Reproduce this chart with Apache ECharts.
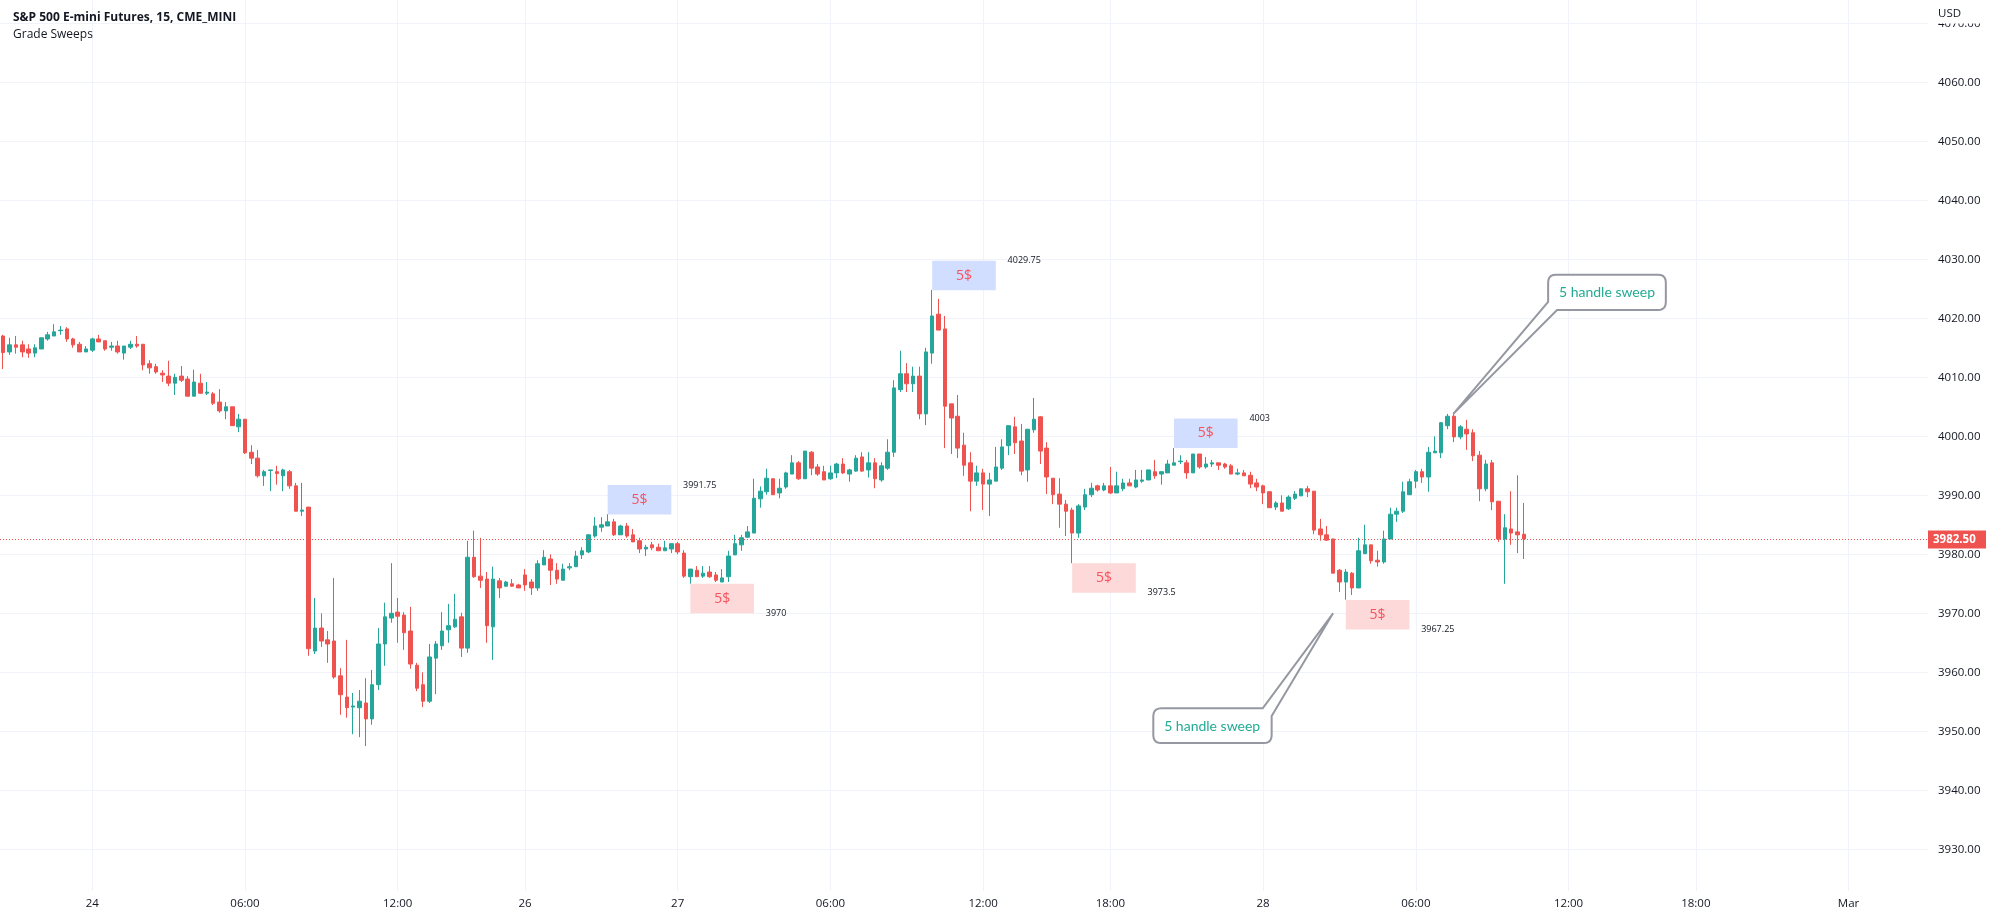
<!DOCTYPE html>
<html>
<head>
<meta charset="utf-8">
<title>S&amp;P 500 E-mini Futures</title>
<style>html,body{margin:0;padding:0;background:#fff;overflow:hidden}#chart{width:1992px;height:919px}</style>
<script src="https://cdn.jsdelivr.net/npm/echarts@6/dist/echarts.min.js"></script>
</head>
<body>
<div id="chart"></div>
<script>
const opens = [
4017,4014.3,4015.5,4015.5,4014.8,4014.1,4014.8,4016.5,4017,4017.9,
4018.2,4016.5,4015.6,4014.3,4014.6,4016.5,4016.2,4015.1,4015.3,4014.1,
4015.1,4015.6,4015.6,4012.3,4011.8,4010.7,4010.2,4009,4010.2,4009.7,
4006.8,4009,4007.3,4007.2,4005.8,4004.3,4005,4001.6,4002.9,3997.3,
3996.3,3993.3,3994.2,3994,3993.3,3994,3991.6,3987.3,3988,3963.6,
3967.5,3965.5,3965.3,3959.4,3955.8,3954.1,3954,3954.8,3952.1,3957.9,
3964.8,3969.2,3970.2,3969.7,3967,3961.2,3957.9,3955.1,3962.4,3964.5,
3967.2,3967.7,3969.4,3964.1,3979.5,3976.3,3975.8,3967.7,3975.5,3974.6,
3975,3974.8,3976.5,3975.3,3974.3,3978.2,3979.2,3977.3,3975.6,3977.7,
3977.9,3979.9,3980.4,3983.1,3984.6,3984.8,3985.5,3983.3,3984.8,3983.3,
3982.3,3980.9,3981.6,3981.2,3980.6,3980.9,3981.8,3980.2,3976.2,3977.3,
3976.3,3977,3976.5,3975.3,3976.2,3979.9,3981.6,3982.9,3983.6,3989.4,
3990.6,3992.8,3990.4,3991.4,3993.6,3995.5,3992.8,3997.3,3994.8,3994,
3992.8,3993.8,3995.3,3993.6,3994.1,3996.5,3994.3,3995.5,3992.6,3994.6,
3997.3,4007.9,4010.6,4008.9,4010.2,4003.8,4014.1,4020.7,4018.2,4005.5,
4003.4,3998.5,3995.5,3992.4,3993.8,3991.9,3992.4,3994.6,3998.4,4001.6,
3999.2,3994.3,4001.1,4003.3,3998,3992.9,3990.2,3988.5,3987.5,3983.6,
3988,3990.1,3991.6,3990.9,3991.6,3990.4,3991.1,3992.1,3991.4,3992.4,
3992.6,3994,3993.6,3993.8,3995.1,3995.7,3995.5,3993.8,3997,3994.8,
3995.3,3995.5,3995.3,3995,3993.6,3993.8,3993.4,3992.1,3991.6,3990.6,
3988,3988.7,3987.7,3989.5,3989.9,3991.1,3990.7,3984.3,3983.3,3982.6,
3977.3,3975.3,3976.8,3974.3,3980.1,3981.6,3979,3978.7,3982.6,3986.8,
3987.3,3990.1,3992.4,3994,3993.1,3997.2,3997.2,4001.8,4003.4,3999.9,
4001.2,4000.6,3996.8,3991.1,3995.5,3989,3982.6,3984.3,3983.8,3983.4];
const closes = [
4014.2,4015.5,4015.1,4014.3,4014.1,4015,4016.7,4017.2,4017.7,4018,
4016.5,4015.5,4014.3,4014.8,4016.5,4016,4014.8,4015.3,4014.3,4015.3,
4015.6,4015.3,4012.1,4011.6,4010.9,4010.4,4009,4010,4009.5,4006.8,
4009.2,4007.3,4007.5,4005.6,4004.3,4005,4001.8,4002.9,3997.2,3996.3,
3993.3,3994,3994.3,3993.7,3994.3,3991.6,3987.3,3987.5,3964,3967.5,
3965.3,3964.8,3959.2,3956.2,3954,3954.3,3955.1,3952.1,3957.9,3964.8,
3969.4,3970,3969.5,3966.7,3961.4,3957.3,3955.1,3962.6,3964.8,3967,
3967.9,3969,3964.1,3979.5,3976.2,3975.6,3967.9,3975.8,3974.3,3975.3,
3974.6,3974.3,3974.8,3974.3,3978.4,3979.5,3977.3,3975.8,3977.5,3977.9,
3979.7,3980.6,3983.3,3984.8,3985,3985.5,3983.3,3984.8,3983.1,3982.1,
3980.9,3981.2,3981.1,3980.6,3981.1,3981.8,3980.4,3976.3,3977.5,3976.2,
3976.8,3976.2,3975.6,3976,3979.7,3981.8,3982.8,3983.8,3989.5,3990.7,
3992.9,3990.1,3991.2,3993.8,3995.5,3992.8,3997.5,3994.6,3993.6,3992.6,
3993.8,3995.3,3993.8,3994.3,3996.3,3994.1,3995.5,3992.8,3995,3997.3,
4008.2,4010.6,4008.9,4010.2,4003.8,4014.3,4020.4,4018,4005.1,4003.1,
3998,3995.1,3992.4,3993.8,3991.9,3992.6,3994.8,3998.2,4001.8,3998.9,
3994.1,4001.2,4002.9,3997.5,3993.1,3990.1,3988.5,3987.3,3983.6,3988.2,
3990.1,3991.2,3990.9,3991.6,3990.4,3991.6,3992.1,3991.6,3992.6,3992.6,
3994.3,3993.3,3994,3995.3,3995.5,3995.8,3993.8,3997,3994.8,3995.3,
3995.5,3995.1,3994.8,3993.6,3993.8,3993.3,3991.9,3991.4,3990.4,3987.9,
3988.7,3987.3,3989.7,3990.2,3991.1,3990.6,3984.1,3983.3,3982.4,3976.8,
3975.3,3977,3974.3,3980.6,3981.6,3978.9,3978.7,3982.6,3986.8,3987.3,
3990.6,3992.3,3994,3993.1,3997.3,3997.5,4002.3,4003.4,3999.9,4001.6,
4000.4,3996.7,3991.1,3995.3,3988.9,3982.6,3984.5,3983.6,3983.3,3982.6];
const lows = [
4011.4,4013.8,4014,4013.4,4013.3,4013.4,4014.8,4016.2,4017,4017.2,
4016,4015,4014.3,4014.3,4014.3,4016,4014.5,4014.5,4014,4013,
4014.8,4015,4011.2,4010.6,4010.6,4009.2,4008.5,4007,4009.2,4006.8,
4006.8,4007.2,4007,4005.3,4004,4002.9,4001.8,4000.7,3997,3995.3,
3993,3991.6,3990.7,3991.8,3990.7,3991.1,3987.3,3986.5,3962.8,3963.1,
3964.3,3961.6,3958.9,3952.8,3952.3,3949.5,3949,3947.5,3951.1,3957,
3961.1,3968.4,3965,3963.8,3960.6,3956.8,3954.1,3954.8,3956.3,3963.8,
3965,3967.5,3962.6,3963.3,3976,3974.3,3965,3962.1,3972.6,3974.5,
3974.5,3974.3,3973.8,3973.1,3973.8,3978.2,3974.8,3975,3975.6,3977.3,
3977.9,3979.2,3980.2,3982.8,3983.8,3984.8,3983.1,3983.3,3982.8,3982.1,
3980.2,3979.7,3980.7,3980.6,3980.6,3980.2,3980,3976,3975,3976.2,
3976,3976,3975.3,3975.3,3975.3,3979.9,3980.6,3982.8,3983.6,3987.9,
3990.1,3990.1,3989.5,3991.1,3993.6,3992.6,3992.8,3993.4,3993.3,3992.6,
3992.6,3992.9,3993.6,3992.3,3994,3994,3993,3991.2,3992.3,3994.3,
3996.5,4007.5,4007.5,4007.5,4002.9,4001.9,4012.3,4018,3998,3997,
3996.3,3993.3,3987.3,3991.6,3987.5,3986.5,3992.4,3994.3,3996.8,3997,
3993.4,3992.3,4000.6,3995.3,3990.2,3988.5,3984.5,3983.1,3978.5,3982.8,
3987.5,3989.7,3990.6,3990.7,3990.2,3990.4,3990.7,3991.6,3991.2,3992.1,
3992.6,3992.8,3991.8,3993.8,3995.1,3995.3,3992.8,3993.8,3994.5,3994.5,
3994.8,3994.3,3994.5,3993.6,3993.4,3993.3,3991.2,3990.7,3988.5,3987.9,
3987.5,3987.3,3987.5,3989.2,3989.9,3989.7,3983.4,3982.3,3982.3,3976.8,
3973.6,3972.3,3973.1,3974.3,3980.1,3978.4,3977.9,3978.4,3982.6,3985.5,
3987,3990.1,3991.2,3992.1,3990.6,3997.2,3996.3,4001.2,3999,3999.5,
3997.7,3995.8,3989,3990.7,3987.5,3982.1,3975,3981.6,3980.2,3979.2];
const highs = [
4017.2,4016.7,4017,4016.2,4015.6,4015.6,4016.7,4017.7,4019,4018.7,
4018.5,4016.7,4016,4015.3,4016.7,4017.2,4016.2,4016,4016.2,4015.3,
4016.2,4017,4015.6,4012.9,4012.3,4011.2,4012.8,4010.6,4011.9,4010.2,
4011.3,4010.6,4009.2,4007.5,4008,4005.8,4005,4003.8,4002.9,3998.5,
3997.7,3994.3,3994.3,3995,3994.5,3994.3,3992.1,3992.1,3988,3972.6,
3970,3967,3976,3960.7,3965.5,3956.5,3957,3959,3960.4,3967.5,
3971.8,3978.5,3972.6,3970.2,3971.1,3961.6,3960,3964.8,3965.3,3970.2,
3971.6,3973.3,3970.1,3982.3,3984,3982.8,3977,3977.9,3976,3975.5,
3975.8,3975,3977.5,3975.8,3979,3980.7,3980,3978.5,3978.4,3978.5,
3980.6,3981.2,3983.4,3986.3,3986.3,3986.8,3986,3985,3985.3,3984.3,
3982.8,3981.6,3982.1,3981.8,3982.3,3981.8,3982.1,3980.7,3977.5,3978,
3978,3978,3977,3977.5,3980.6,3983.3,3983.3,3984.8,3992.8,3991.5,
3994.5,3992.9,3992.8,3994,3996.8,3995.8,3997.5,3997.5,3995.3,3995,
3995,3995.5,3996.3,3994.5,3996.8,3997.3,3997.3,3996.3,3995.6,3999.5,
4009.5,4014.5,4012.4,4011.8,4011.8,4015,4024.8,4023.3,4020.4,4005.5,
4007,4000.6,3997.3,3995,3994.5,3993.8,3998.2,3999.5,4001.8,4003.3,
4002.1,4001.2,4006.5,4003.4,3999,3992.9,3992.9,3989.2,3987.9,3988.5,
3991.1,3992.1,3991.8,3992.1,3994.8,3994,3992.8,3992.8,3994.3,3994.3,
3994.3,3996,3994,3996,3998,3996.8,3996,3997,3997,3996.5,
3996,3995.5,3995.5,3995.3,3994.5,3994.3,3994,3992.8,3991.8,3990.7,
3989,3990,3990,3990.7,3991.1,3991.6,3990.7,3986,3984.8,3982.6,
3977.5,3977.5,3977,3982.8,3985,3981.6,3980.6,3984,3987.9,3987.9,
3992.3,3992.8,3994.3,3994.5,3998.2,4000,4002.4,4003.8,4004,4001.9,
4002.8,4001.2,3997.5,3996,3996,3989,3986.8,3990.7,3993.4,3988.7];

const barSlots = 303;
const timeTickBars = [14,38,62,82,106,130,154,174,198,222,246,266,290];
const timeTickLabels = ['24','06:00','12:00','26','27','06:00','12:00','18:00','28','06:00','12:00','18:00','Mar'];
const priceMin = 3930, priceMax = 4070, priceStep = 10;
const lastPrice = 3982.5;
const lastPriceLabel = '3982.50';

const sweepStartBars = [95,108,146,168,184,211];
const sweepTopPrices = [3991.75,3975,4029.75,3978.5,4003,3972.25];
const sweepIsHigh = [true,false,true,false,true,false];
const sweepPriceTexts = ['3991.75','3970','4029.75','3973.5','4003','3967.25'];
const sweepBars = 10, sweepHandles = 5, sweepTextGapBars = 11.85;
const sweepLabel = '5$';

const calloutText = '5 handle sweep';
const calloutCentres = [[252.05,4024.4],[190,3950.9]];
const calloutOutlines = [
  [[242.8,4027.4,1],[261.3,4027.4,1],[261.3,4021.4,1],[244.2,4021.4,0],[227.9,4003.8,0],[242.8,4022.8,0]],
  [[180.75,3953.9,1],[197.95,3953.9,0],[209.0,3970,0],[199.35,3952.6,0],[199.35,3948,1],[180.75,3948,1]]
];

const FONT = '"Open Sans", sans-serif';
const UP = '#26a69a', DOWN = '#ef5350', GRID = '#f0f3fa', INK = '#131722';

const categories = Array.from({length: barSlots}, (_, i) => {
  const k = timeTickBars.indexOf(i);
  return k >= 0 ? timeTickLabels[k] : '';
});
const candleData = opens.map((o, i) => [o, closes[i], lows[i], highs[i]]);

function roundedOutline(pts, r) {
  const out = [];
  const n = pts.length;
  for (let i = 0; i < n; i++) {
    const p = pts[i];
    if (!p[2]) { out.push([p[0], p[1]]); continue; }
    const a = pts[(i - 1 + n) % n], b = pts[(i + 1) % n];
    const la = Math.hypot(a[0]-p[0], a[1]-p[1]), lb = Math.hypot(b[0]-p[0], b[1]-p[1]);
    const s = [p[0] + (a[0]-p[0]) * r / la, p[1] + (a[1]-p[1]) * r / la];
    const e = [p[0] + (b[0]-p[0]) * r / lb, p[1] + (b[1]-p[1]) * r / lb];
    for (let t = 0; t <= 1.001; t += 0.2) {
      const u = 1 - t;
      out.push([u*u*s[0] + 2*u*t*p[0] + t*t*e[0], u*u*s[1] + 2*u*t*p[1] + t*t*e[1]]);
    }
  }
  return out;
}

const chart = echarts.init(document.getElementById('chart'), null, {renderer: 'canvas'});
chart.setOption({
  animation: false,
  backgroundColor: '#ffffff',
  title: [
    {text: 'S&P 500 E-mini Futures, 15, CME_MINI', left: 8, top: 7,
     textStyle: {fontFamily: FONT, fontSize: 12, fontWeight: 'bold', color: INK}},
    {text: 'Grade Sweeps', left: 8, top: 24,
     textStyle: {fontFamily: FONT, fontSize: 12, fontWeight: 'normal', color: INK}}
  ],
  grid: [
    {left: 3.18, top: 0, width: 1921.7, height: 891},
    {left: 0, top: 23.3, width: 1928, height: 826}
  ],
  xAxis: [
    {type: 'category', gridIndex: 0, data: categories, boundaryGap: false,
     axisLine: {show: false}, axisTick: {show: false},
     axisLabel: {interval: (i, v) => v !== '', margin: 7, fontFamily: FONT, fontSize: 11.5, color: INK, hideOverlap: false},
     splitLine: {show: true, interval: (i, v) => v !== '', lineStyle: {color: GRID, width: 1}}},
    {type: 'category', gridIndex: 1, data: categories, show: false},
    {type: 'value', gridIndex: 1, min: -0.5, max: barSlots - 0.5, show: false}
  ],
  yAxis: [
    {type: 'value', gridIndex: 0, min: 0, max: 1, show: false},
    {type: 'value', gridIndex: 1, min: priceMin, max: priceMax, interval: priceStep, position: 'right',
     axisLine: {show: false}, axisTick: {show: false},
     axisLabel: {margin: 10, fontFamily: FONT, fontSize: 11.5, color: INK, formatter: v => v.toFixed(2)},
     splitLine: {show: true, lineStyle: {color: GRID, width: 1}}}
  ],
  series: [
    {type: 'candlestick', xAxisIndex: 1, yAxisIndex: 1, data: candleData, barWidth: 4, silent: true,
     itemStyle: {color: UP, color0: DOWN, borderColor: UP, borderColor0: DOWN, borderWidth: 1},
     markLine: {silent: true, symbol: 'none', animation: false,
       lineStyle: {color: DOWN, type: [1, 2], width: 1},
       label: {show: true, position: 'end', distance: 0, formatter: lastPriceLabel,
         backgroundColor: DOWN, color: '#ffffff', fontFamily: FONT, fontSize: 11.5, fontWeight: 'bold',
         width: 48, height: 18, lineHeight: 18, align: 'left', padding: [0, 5, 0, 5]},
       data: [{yAxis: lastPrice}]}},
    {type: 'custom', xAxisIndex: 2, yAxisIndex: 1, silent: true, z: 3,
     data: sweepStartBars.map((b, i) => [b, sweepTopPrices[i], i]),
     renderItem(params, api) {
       const i = api.value(2), b = api.value(0), top = api.value(1);
       const a = api.coord([b, top]), c = api.coord([b + sweepBars, top - sweepHandles]);
       return {type: 'group', children: [
         {type: 'rect', shape: {x: a[0], y: a[1], width: c[0]-a[0], height: c[1]-a[1]},
          style: {fill: sweepIsHigh[i] ? '#d1deff' : '#fdd9d9'}},
         {type: 'text', x: (a[0]+c[0])/2, y: (a[1]+c[1])/2,
          style: {text: sweepLabel, fill: '#f7525f', font: '14px ' + FONT, align: 'center', verticalAlign: 'middle'}},
         (function () {
           const t = api.coord([b + sweepTextGapBars, sweepIsHigh[i] ? top : top - sweepHandles]);
           return {type: 'text', x: t[0], y: t[1],
             style: {text: sweepPriceTexts[i], fill: INK, font: '9px ' + FONT, align: 'left', verticalAlign: 'middle'}};
         })()
       ]};
     }},
    {type: 'custom', xAxisIndex: 2, yAxisIndex: 1, silent: true, z: 4,
     data: calloutCentres.map((c, i) => [c[0], c[1], i]),
     renderItem(params, api) {
       const i = api.value(2);
       const pts = calloutOutlines[i].map(p => { const q = api.coord([p[0], p[1]]); return [q[0], q[1], p[2]]; });
       const centre = api.coord([api.value(0), api.value(1)]);
       return {type: 'group', children: [
         {type: 'polygon', shape: {points: roundedOutline(pts, 8)},
          style: {fill: '#ffffff', stroke: '#9598a1', lineWidth: 2}},
         {type: 'text', x: centre[0], y: centre[1],
          style: {text: calloutText, fill: '#22ab94', font: '14px Lato, ' + FONT, align: 'center', verticalAlign: 'middle'}}
       ]};
     }}
  ],
  graphic: [
    {type: 'rect', z: 100, shape: {x: 1928.5, y: 0, width: 64, height: 23.5}, style: {fill: '#ffffff'}},
    {type: 'text', z: 101, x: 1938, y: 13.5,
     style: {text: 'USD', fill: INK, font: '11.5px ' + FONT, align: 'left', verticalAlign: 'middle'}}
  ]
});
</script>
</body>
</html>
